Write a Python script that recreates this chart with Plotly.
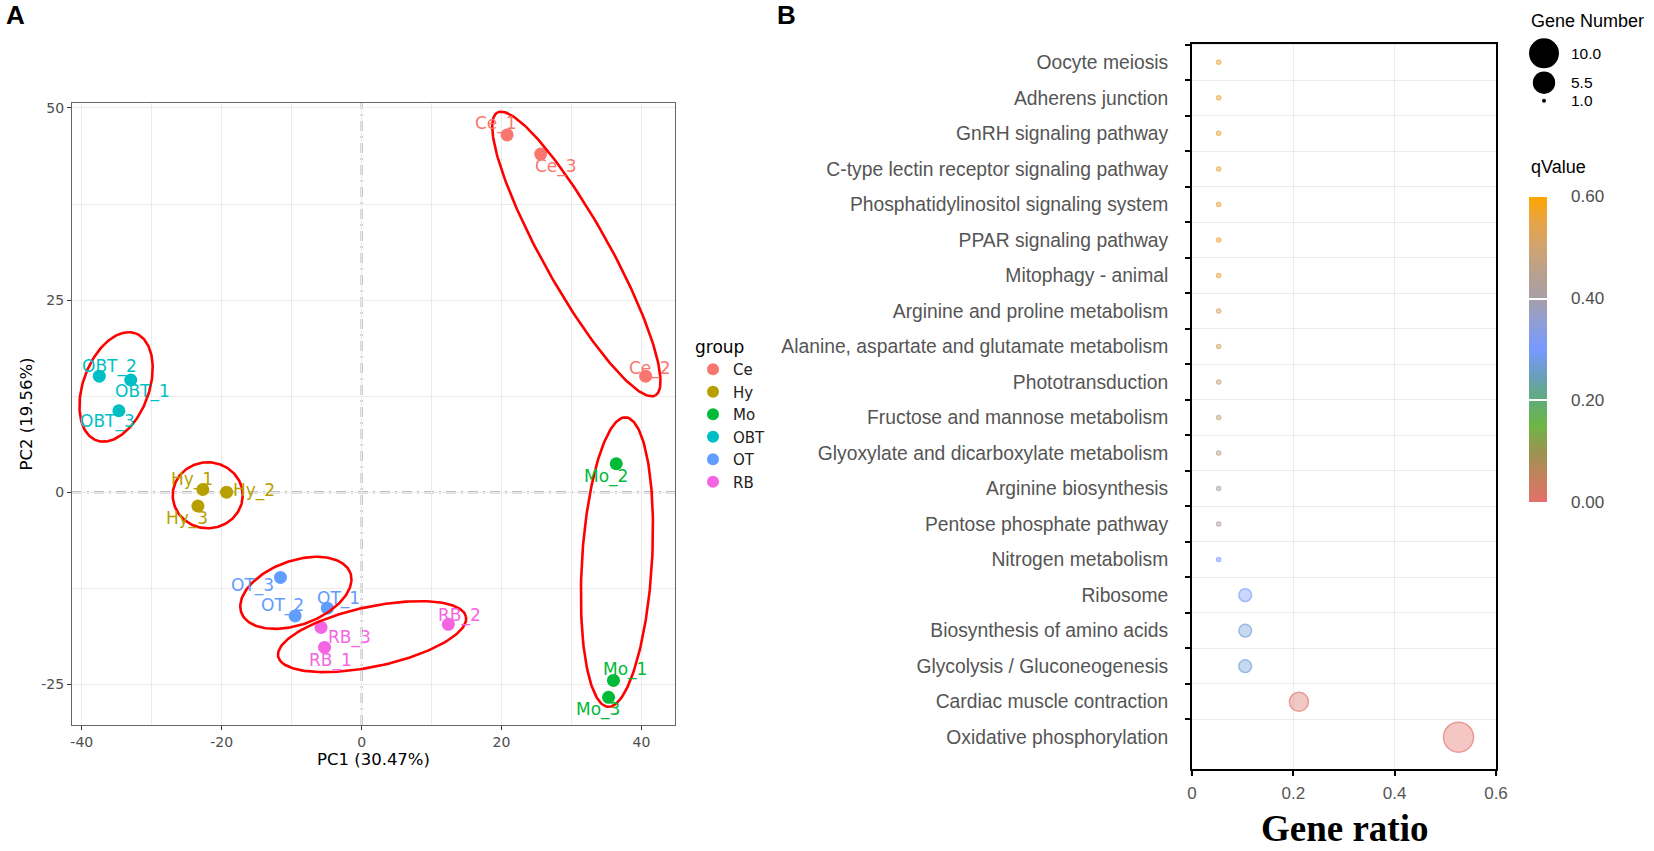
import numpy as np
import plotly.graph_objects as go
from plotly.colors import sample_colorscale, unlabel_rgb

W, H = 1654, 851

# ---------------- panel A : PCA scores ----------------
samples = ["Ce_1", "Ce_2", "Ce_3", "Hy_1", "Hy_2", "Hy_3", "Mo_1", "Mo_2", "Mo_3",
           "OBT_1", "OBT_2", "OBT_3", "OT_1", "OT_2", "OT_3", "RB_1", "RB_2", "RB_3"]
pc1 = [20.8, 40.6, 25.6, -22.7, -19.3, -23.4, 36.0, 36.4, 35.3,
       -33.0, -37.5, -34.7, -4.9, -9.5, -11.6, -5.3, 12.4, -5.8]
pc2 = [46.5, 15.1, 44.0, 0.35, 0.0, -1.8, -24.5, 3.7, -26.7,
       14.6, 15.1, 10.6, -15.1, -16.1, -11.1, -20.2, -17.2, -17.6]
groups = ["Ce", "Hy", "Mo", "OBT", "OT", "RB"]
group_colors = ["#F8766D", "#B79F00", "#00BA38", "#00BFC4", "#619CFF", "#F564E3"]

# ---------------- panel B : KEGG enrichment ----------------
pathways = ["Oocyte meiosis", "Adherens junction", "GnRH signaling pathway",
            "C-type lectin receptor signaling pathway", "Phosphatidylinositol signaling system",
            "PPAR signaling pathway", "Mitophagy - animal", "Arginine and proline metabolism",
            "Alanine, aspartate and glutamate metabolism", "Phototransduction",
            "Fructose and mannose metabolism", "Glyoxylate and dicarboxylate metabolism",
            "Arginine biosynthesis", "Pentose phosphate pathway", "Nitrogen metabolism",
            "Ribosome", "Biosynthesis of amino acids", "Glycolysis / Gluconeogenesis",
            "Cardiac muscle contraction", "Oxidative phosphorylation"]
gene_ratio = [0.0526] * 15 + [0.105, 0.105, 0.105, 0.211, 0.526]
gene_number = [1] * 15 + [2, 2, 2, 4, 10]
q_value = [0.56, 0.56, 0.56, 0.56, 0.56, 0.56, 0.56, 0.51, 0.51, 0.48,
           0.48, 0.46, 0.43, 0.42, 0.30, 0.30, 0.27, 0.27, 0.01, 0.0]
size_breaks = [10.0, 5.5, 1.0]
q_breaks = [0.0, 0.2, 0.4, 0.6]

# label nudges (px) for the sample names, like ggrepel put them
label_shift = {
    "Ce_1": (-11, 11), "Ce_2": (4, 8), "Ce_3": (15, -12),
    "Hy_1": (-11, 10), "Hy_2": (27, 2), "Hy_3": (-11, -12),
    "Mo_1": (12, 11), "Mo_2": (-10, -13), "Mo_3": (-11, -12),
    "OBT_1": (12, -11), "OBT_2": (10, 10), "OBT_3": (-11, -11),
    "OT_1": (11, 10), "OT_2": (-13, 10), "OT_3": (-28, -8),
    "RB_1": (6, -13), "RB_2": (11, 9), "RB_3": (28, -10),
}
# hand drawn red rings: centre (data), half axes (px), tilt (deg)
rings = [(30.7, 31.0, 162, 33, -60.8), (36.5, -9.1, 145, 35, 86.5),
         (-35.1, 13.7, 57, 33, 70), (-22.0, -0.4, 35, 33, 0),
         (-9.4, -13.1, 58, 32, 20), (1.5, -18.8, 96, 30, 12)]

# layout geometry (pixels)
A_box = (72, 675, 103, 725)          # left, right, top, bottom
A_xr, A_yr = [-41.4, 44.8], [-30.3, 50.65]
B_box = (1192, 1496, 43.5, 769)
B_yr = [19.895, -0.53]
CB = (1529, 197, 18, 305)            # colour bar left, top, thickness, length

kx = (A_box[1] - A_box[0]) / (A_xr[1] - A_xr[0])
ky = (A_box[3] - A_box[2]) / (A_yr[1] - A_yr[0])

q_scale = [[0.0, "#E46F6A"], [0.0833, "#C2825C"], [0.1667, "#9A9450"], [0.25, "#6DB646"],
           [0.3333, "#62AC78"], [0.4167, "#6A9EC0"], [0.5, "#7799FF"], [0.5833, "#8E9ED8"],
           [0.6667, "#A79FA8"], [0.75, "#B9A08E"], [0.8333, "#CFA370"], [0.9167, "#E6A448"],
           [1.0, "#FFA500"]]
q_max = 0.6


def dot_px(n):
    return 4 + 26 * np.sqrt((np.asarray(n, float) - 1) / 9)


def px_x(v):
    return v / W


def px_y(v):
    return 1 - v / H


fig = go.Figure()

# PCA points by group
for g, col in zip(groups, group_colors):
    idx = [i for i, s in enumerate(samples) if s.split("_")[0] == g]
    fig.add_trace(go.Scatter(
        x=[pc1[i] for i in idx], y=[pc2[i] for i in idx], mode="markers", name=g,
        marker=dict(size=13, color=col), hoverinfo="skip"))

# red rings
t = np.linspace(0, 2 * np.pi, 200)
for cx, cy, a, b, ang in rings:
    p = np.radians(ang)
    dx = a * np.cos(t) * np.cos(p) - b * np.sin(t) * np.sin(p)
    dy = a * np.cos(t) * np.sin(p) + b * np.sin(t) * np.cos(p)
    fig.add_trace(go.Scatter(x=cx + dx / kx, y=cy + dy / ky, mode="lines",
                             line=dict(color="#FF0000", width=2.6),
                             showlegend=False, hoverinfo="skip"))

colour_of = dict(zip(groups, group_colors))
for s, x, y in zip(samples, pc1, pc2):
    sx, sy = label_shift[s]
    fig.add_annotation(x=x, y=y, xref="x", yref="y", text=s, showarrow=False,
                       xshift=sx, yshift=sy,
                       font=dict(family="DejaVu Sans", size=17, color=colour_of[s.split("_")[0]]))

# bubble chart
rgb = [unlabel_rgb(c) for c in sample_colorscale(q_scale, [q / q_max for q in q_value])]
fills = ["rgba(%d,%d,%d,0.55)" % tuple(int(round(v)) for v in c) for c in rgb]
lines = ["rgb(%d,%d,%d)" % tuple(int(round(v)) for v in c) for c in rgb]
rows = list(range(len(pathways)))
fig.add_trace(go.Scatter(
    x=gene_ratio, y=rows, xaxis="x2", yaxis="y2", mode="markers", showlegend=False,
    marker=dict(size=dot_px(gene_number), color=fills, line=dict(color=lines, width=1.5)),
    hoverinfo="skip"))
# carrier of the qValue colour bar
fig.add_trace(go.Scatter(
    x=gene_ratio, y=rows, xaxis="x2", yaxis="y2", mode="markers", showlegend=False,
    hoverinfo="skip",
    marker=dict(size=1, opacity=0, color=q_value, colorscale=q_scale, cmin=0, cmax=q_max,
                showscale=True,
                colorbar=dict(x=px_x(CB[0]), xanchor="left", y=px_y(CB[1]), yanchor="top",
                              len=CB[3], lenmode="pixels", thickness=CB[2], thicknessmode="pixels",
                              outlinewidth=0, xpad=0, ypad=0, tickvals=q_breaks,
                              ticks="inside", ticklen=CB[2], tickwidth=1.5, tickcolor="white",
                              showticklabels=False))))
for q in q_breaks:
    fig.add_annotation(x=px_x(1569), y=px_y(CB[1] + (q_max - q) / q_max * CB[3]),
                       xref="paper", yref="paper", text="%.2f" % q, showarrow=False,
                       xanchor="left", yanchor="middle",
                       font=dict(family="Liberation Sans", size=17, color="#4D4D4D"))

# size legend keys
for v, cy in zip(size_breaks, [53.3, 82.7, 100.7]):
    r = float(dot_px(v)) / 2
    fig.add_shape(type="circle", xref="paper", yref="paper", xsizemode="pixel", ysizemode="pixel",
                  xanchor=px_x(1544), yanchor=px_y(cy), x0=-r, x1=r, y0=-r, y1=r,
                  fillcolor="black", line=dict(width=0))
    fig.add_annotation(x=px_x(1569), y=px_y(cy), xref="paper", yref="paper", text="%.1f" % v,
                       showarrow=False, xanchor="left", yanchor="middle",
                       font=dict(family="Liberation Sans", size=15.5, color="black"))
fig.add_annotation(x=px_x(1529), y=px_y(21), xref="paper", yref="paper", text="Gene Number",
                   showarrow=False, xanchor="left", yanchor="middle",
                   font=dict(family="Liberation Sans", size=18, color="black"))
fig.add_annotation(x=px_x(1529), y=px_y(166.7), xref="paper", yref="paper", text="qValue",
                   showarrow=False, xanchor="left", yanchor="middle",
                   font=dict(family="Liberation Sans", size=18, color="black"))
fig.add_annotation(x=px_x((B_box[0] + B_box[1]) / 2), y=px_y(828), xref="paper", yref="paper",
                   text="Gene ratio", showarrow=False, xanchor="center", yanchor="middle",
                   font=dict(family="Liberation Serif", size=37, color="black", weight="bold"))

# panel letters
for txt, x in [("A", 15), ("B", 786)]:
    fig.add_annotation(x=px_x(x), y=px_y(15), xref="paper", yref="paper", text=txt,
                       showarrow=False, xanchor="center", yanchor="middle",
                       font=dict(family="Liberation Sans", size=26, color="black", weight="bold"))

# zero reference lines
for kw in [dict(x0=0, x1=0, xref="x", y0=0, y1=1, yref="y domain"),
           dict(y0=0, y1=0, yref="y", x0=0, x1=1, xref="x domain")]:
    fig.add_shape(type="line", line=dict(color="#BEBEBE", width=2.4, dash="10px,5px,2px,5px"),
                  layer="below", **kw)

grid_a = "#EBEBEB"
fig.update_layout(
    width=W, height=H, margin=dict(l=0, r=0, t=0, b=0),
    paper_bgcolor="white", plot_bgcolor="white",
    font=dict(family="DejaVu Sans", color="#4D4D4D"),
    xaxis=dict(domain=[px_x(A_box[0]), px_x(A_box[1])], range=A_xr,
               tickvals=[-40, -20, 0, 20, 40], ticktext=["-40", "-20", "0", "20", "40"],
               ticks="outside", ticklen=4, tickcolor="#333333",
               showline=True, mirror=True, linecolor="#666666", linewidth=1.2,
               showgrid=True, gridcolor=grid_a, gridwidth=1.1, zeroline=False,
               minor=dict(tickvals=[-30, -10, 10, 30], showgrid=True, gridcolor=grid_a, gridwidth=0.6),
               tickfont=dict(size=14, color="#4D4D4D"),
               title=dict(text="PC1 (30.47%)", font=dict(size=16.5, color="black"), standoff=3),
               automargin=False),
    yaxis=dict(domain=[px_y(A_box[3]), px_y(A_box[2])], range=A_yr,
               tickvals=[-25, 0, 25, 50], ticktext=["-25", "0", "25", "50"],
               ticks="outside", ticklen=4, tickcolor="#333333",
               showline=True, mirror=True, linecolor="#666666", linewidth=1.2,
               showgrid=True, gridcolor=grid_a, gridwidth=1.1, zeroline=False,
               minor=dict(tickvals=[-12.5, 12.5, 37.5], showgrid=True, gridcolor=grid_a, gridwidth=0.6),
               tickfont=dict(size=14, color="#4D4D4D"),
               title=dict(text="PC2 (19.56%)", font=dict(size=16.5, color="black"), standoff=4),
               automargin=False),
    xaxis2=dict(domain=[px_x(B_box[0]), px_x(B_box[1])], range=[0, 0.6], anchor="y2",
                tickvals=[0, 0.2, 0.4, 0.6], ticktext=["0", "0.2", "0.4", "0.6"],
                ticks="outside", ticklen=5, tickwidth=1.5, tickcolor="black",
                showline=True, mirror=True, linecolor="black", linewidth=1.8,
                showgrid=True, gridcolor=grid_a, gridwidth=1.4, zeroline=False,
                ticklabelstandoff=3,
                tickfont=dict(family="Liberation Sans", size=17, color="#555555"),
                automargin=False),
    yaxis2=dict(domain=[px_y(B_box[3]), px_y(B_box[2])], range=B_yr, anchor="x2",
                tickvals=rows, ticktext=pathways, ticks="", showgrid=False, zeroline=False,
                showline=True, mirror=True, linecolor="black", linewidth=1.8,
                ticklabelstandoff=18,
                minor=dict(tickvals=[r - 0.5 for r in rows], ticks="outside", ticklen=5, tickwidth=1.5,
                           tickcolor="black", showgrid=True, gridcolor=grid_a, gridwidth=1.4),
                tickfont=dict(family="Liberation Sans", size=19.3, color="#555555"),
                automargin=False),
    legend=dict(x=px_x(693), y=px_y(331), xanchor="left", yanchor="top",
                title=dict(text="group", font=dict(size=17, color="black")),
                font=dict(size=15, color="#222222"), itemsizing="constant",
                bgcolor="rgba(0,0,0,0)", tracegroupgap=0),
    showlegend=True,
)

# the page body otherwise adds an 8px margin around the figure
fig.write_html("out.html", config={"displayModeBar": False},
               post_script="document.body.style.margin='0px';")
